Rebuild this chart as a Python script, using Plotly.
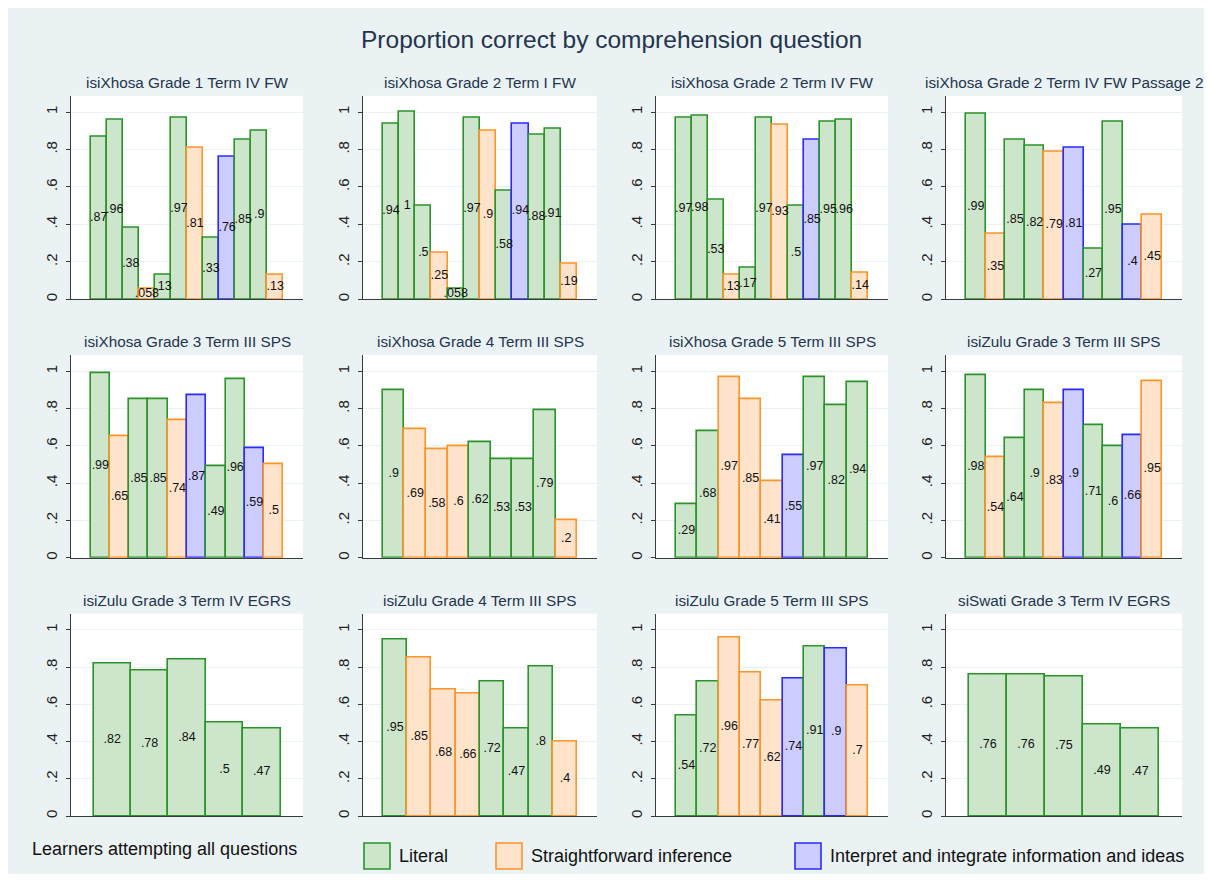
import plotly.graph_objects as go

# the page puts an 8px body margin around the figure
OFF = 8
W, H = 1196, 866

# ---- data -------------------------------------------------------------
panel_titles = [
    "isiXhosa Grade 1 Term IV FW", "isiXhosa Grade 2 Term I FW",
    "isiXhosa Grade 2 Term IV FW", "isiXhosa Grade 2 Term IV FW Passage 2",
    "isiXhosa Grade 3 Term III SPS", "isiXhosa Grade 4 Term III SPS",
    "isiXhosa Grade 5 Term III SPS", "isiZulu Grade 3 Term III SPS",
    "isiZulu Grade 3 Term IV EGRS", "isiZulu Grade 4 Term III SPS",
    "isiZulu Grade 5 Term III SPS", "siSwati Grade 3 Term IV EGRS",
]

# proportion correct per question, in question order
panel_values = [
    [0.87, 0.96, 0.38, 0.058, 0.13, 0.97, 0.81, 0.33, 0.76, 0.85, 0.90, 0.13],
    [0.94, 1.00, 0.50, 0.25, 0.058, 0.97, 0.90, 0.58, 0.94, 0.88, 0.91, 0.19],
    [0.97, 0.98, 0.53, 0.13, 0.17, 0.97, 0.93, 0.50, 0.85, 0.95, 0.96, 0.14],
    [0.99, 0.35, 0.85, 0.82, 0.79, 0.81, 0.27, 0.95, 0.40, 0.45],
    [0.99, 0.65, 0.85, 0.85, 0.74, 0.87, 0.49, 0.96, 0.59, 0.50],
    [0.90, 0.69, 0.58, 0.60, 0.62, 0.53, 0.53, 0.79, 0.20],
    [0.29, 0.68, 0.97, 0.85, 0.41, 0.55, 0.97, 0.82, 0.94],
    [0.98, 0.54, 0.64, 0.90, 0.83, 0.90, 0.71, 0.60, 0.66, 0.95],
    [0.82, 0.78, 0.84, 0.50, 0.47],
    [0.95, 0.85, 0.68, 0.66, 0.72, 0.47, 0.80, 0.40],
    [0.54, 0.72, 0.96, 0.77, 0.62, 0.74, 0.91, 0.90, 0.70],
    [0.76, 0.76, 0.75, 0.49, 0.47],
]

# question type: L = literal, S = straightforward inference, I = interpret
panel_kinds = [
    "LLLSLLSLILLS", "LLLSLLSLILLS", "LLLSLLSLILLS", "LSLLSILLIS",
    "LSLLSILLIS", "LSSSLLLLS", "LLSSSILLL", "LSLLSILLIS",
    "LLLLL", "LSSSLLLS", "LLSSSILIS", "LLLLL",
]

kind_names = {"L": "Literal", "S": "Straightforward inference",
              "I": "Interpret and integrate information and ideas"}

ytick_vals = [0, 0.2, 0.4, 0.6, 0.8, 1]
ytick_text = ["0", ".2", ".4", ".6", ".8", "1"]

# ---- styling ------------------------------------------------------------
BG = "#EAF2F3"
TITLE_C = "#24344f"
FONT = "Arial, Liberation Sans, Helvetica, sans-serif"
fills = {"L": "#cde6cb", "S": "#ffe3cb", "I": "#ccccff"}
edges = {"L": "#2a942a", "S": "#ff9428", "I": "#2a2aff"}

# pixel boxes of plot areas (screen coords)
col_px = [(71, 303), (363, 597), (656, 888), (946, 1182)]
row_px = [(96, 300), (356, 559), (615, 818)]


def px(x):
    return (x - OFF) / W


def py(y):
    return 1 - (y - OFF) / H


def fmt(v):
    s = f"{v:.2g}"
    return s[1:] if s.startswith("0.") else s


fig = go.Figure()
annotations = []
for i, title in enumerate(panel_titles):
    r, c = divmod(i, 4)
    n = i + 1
    xa = "x" if n == 1 else f"x{n}"
    ya = "y" if n == 1 else f"y{n}"
    vals = panel_values[i]
    kinds = panel_kinds[i]
    xs = list(range(1, len(vals) + 1))

    fig.add_trace(go.Bar(
        x=xs, y=vals, width=1,
        marker=dict(color=[fills[k] for k in kinds],
                    line=dict(color=[edges[k] for k in kinds], width=1.6)),
        xaxis=xa, yaxis=ya, showlegend=False, hoverinfo="skip",
    ))
    fig.add_trace(go.Scatter(
        x=xs, y=[v / 2 for v in vals], mode="text",
        text=[fmt(v) for v in vals],
        textfont=dict(size=12.5, color="#111111", family=FONT),
        xaxis=xa, yaxis=ya, showlegend=False, hoverinfo="skip",
    ))

    x0, x1 = col_px[c]
    y0, y1 = row_px[r]
    nb = len(vals)
    pad = 0.085 if nb > 6 else 0.097
    span = nb / (1 - 2 * pad)
    g = (span - nb) / 2
    suffix = "" if n == 1 else str(n)
    fig.layout["xaxis" + suffix] = dict(
        domain=[px(x0), px(x1)], anchor=ya, range=[0.5 - g, nb + 0.5 + g],
        showticklabels=False, showgrid=False, zeroline=False,
        showline=True, linecolor="#3a3a3a", linewidth=1, ticks="",
        fixedrange=True,
    )
    fig.layout["yaxis" + suffix] = dict(
        domain=[py(y1), py(y0)], anchor=xa, range=[0, 1.087],
        tickvals=ytick_vals, ticktext=ytick_text, tickangle=-90,
        tickfont=dict(size=15, color="#222222", family=FONT),
        ticks="outside", ticklen=4, tickcolor="#3a3a3a",
        ticklabelstandoff=3,
        showgrid=True, gridcolor=BG, gridwidth=1.2, zeroline=False,
        showline=True, linecolor="#3a3a3a", linewidth=1, fixedrange=True,
    )
    annotations.append(dict(
        x=px((x0 + x1) / 2), y=py(y0 - 3), xref="paper", yref="paper",
        text=title, showarrow=False, xanchor="center", yanchor="bottom",
        font=dict(size=15.3, color=TITLE_C, family=FONT),
    ))

# main title
annotations.append(dict(
    x=px(611), y=py(40), xref="paper", yref="paper",
    text="Proportion correct by comprehension question", showarrow=False,
    xanchor="center", yanchor="middle",
    font=dict(size=24.5, color=TITLE_C, family=FONT),
))

# note at bottom left
annotations.append(dict(
    x=px(30), y=py(851), xref="paper", yref="paper",
    text="Learners attempting all questions", showarrow=False,
    xanchor="left", yanchor="middle",
    font=dict(size=18, color="#111111", family=FONT),
))

# legend drawn as boxes + labels
shapes = []
legend_x = {"L": 364, "S": 496, "I": 795}
for k in ["L", "S", "I"]:
    bx = legend_x[k]
    shapes.append(dict(
        type="rect", xref="paper", yref="paper",
        x0=px(bx), x1=px(bx + 26), y0=py(871), y1=py(845),
        fillcolor=fills[k], line=dict(color=edges[k], width=1.6),
    ))
    annotations.append(dict(
        x=px(bx + 33), y=py(858), xref="paper", yref="paper",
        text=kind_names[k], showarrow=False, xanchor="left", yanchor="middle",
        font=dict(size=18, color="#111111", family=FONT),
    ))

fig.update_layout(
    width=W, height=H,
    margin=dict(l=0, r=0, t=0, b=0),
    paper_bgcolor=BG, plot_bgcolor="white",
    bargap=0, showlegend=False,
    annotations=annotations, shapes=shapes,
    font=dict(family=FONT),
)

fig.write_html("out.html")
